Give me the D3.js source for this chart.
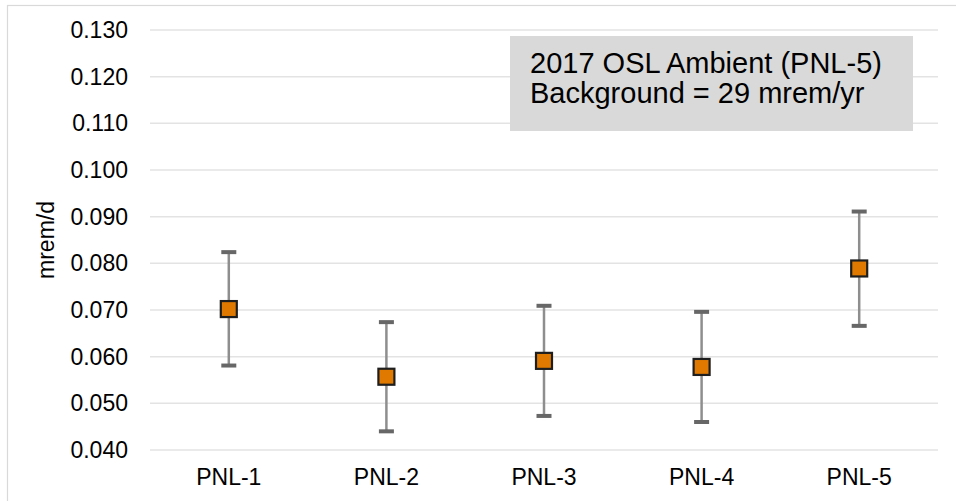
<!DOCTYPE html>
<html>
<head>
<meta charset="utf-8">
<script src="https://cdn.jsdelivr.net/npm/d3@7"></script>
<style>
  body { margin: 0; background: #fff; }
  text { font-family: "Liberation Sans", Arial, sans-serif; fill: #000; }
</style>
</head>
<body>
<div id="chart"></div>
<script>
// data
let categories = ["PNL-1", "PNL-2", "PNL-3", "PNL-4", "PNL-5"]
let values = [0.0702, 0.0557, 0.0591, 0.0578, 0.0789]
let upper = [0.0824, 0.0674, 0.0709, 0.0696, 0.0911]
let lower = [0.0581, 0.0440, 0.0473, 0.0460, 0.0666]
let yTicks = [0.040, 0.050, 0.060, 0.070, 0.080, 0.090, 0.100, 0.110, 0.120, 0.130]
let boxLines = ["2017 OSL Ambient (PNL-5)", "Background = 29 mrem/yr"]

let points = categories.map((c, i) => ({ cat: c, v: values[i], hi: upper[i], lo: lower[i] }))

// graph sizes
let width = 956
let height = 501
let plotLeft = 150, plotRight = 938, plotTop = 30, plotBottom = 450

let svg = d3.select("#chart")
  .append("svg")
  .attr("width", width)
  .attr("height", height)

// outer chart border
svg.append("rect")
  .attr("x", 7.5)
  .attr("y", 5.5)
  .attr("width", width + 10)
  .attr("height", height + 10)
  .attr("fill", "none")
  .attr("stroke", "#d9d9d9")
  .attr("stroke-width", 1.2)

let x = d3.scaleBand()
  .domain(categories)
  .range([plotLeft, plotRight])

let y = d3.scaleLinear()
  .domain([0.040, 0.130])
  .range([plotBottom, plotTop])

// gridlines
svg.append("g")
  .selectAll("line")
  .data(yTicks)
  .enter().append("line")
    .attr("x1", plotLeft)
    .attr("x2", plotRight)
    .attr("y1", d => y(d))
    .attr("y2", d => y(d))
    .attr("stroke", "#e3e3e3")
    .attr("stroke-width", 1.5)

// y axis labels
let yAxis = svg.append("g")
  .attr("transform", "translate(" + (plotLeft - 8) + ",0)")
  .call(d3.axisLeft(y).tickValues(yTicks).tickFormat(d3.format(".3f")).tickSize(0).tickPadding(14))
yAxis.select(".domain").remove()
yAxis.selectAll("text")
  .style("font-size", "23px")
  .style("font-family", "Liberation Sans, Arial, sans-serif")
  .attr("fill", "#000")

// x axis labels
let xAxis = svg.append("g")
  .attr("transform", "translate(0," + plotBottom + ")")
  .call(d3.axisBottom(x).tickSize(0).tickPadding(19))
xAxis.select(".domain").remove()
xAxis.selectAll("text")
  .style("font-size", "23px")
  .style("font-family", "Liberation Sans, Arial, sans-serif")
  .attr("fill", "#000")

// axis title
svg.append("text")
  .attr("transform", "translate(54," + ((plotTop + plotBottom) / 2) + ") rotate(-90)")
  .attr("text-anchor", "middle")
  .style("font-size", "23px")
  .text("mrem/d")

// text box
svg.append("rect")
  .attr("x", 510)
  .attr("y", 36)
  .attr("width", 403)
  .attr("height", 95)
  .attr("fill", "#d9d9d9")

svg.append("g")
  .selectAll("text")
  .data(boxLines)
  .enter().append("text")
    .attr("x", 530)
    .attr("y", (d, i) => 73 + i * 30)
    .style("font-size", "29px")
    .text(d => d)

// error bars
let bars = svg.append("g")
  .selectAll("g")
  .data(points)
  .enter().append("g")
    .attr("transform", d => "translate(" + (x(d.cat) + x.bandwidth() / 2) + ",0)")

bars.append("line")
  .attr("y1", d => y(d.hi))
  .attr("y2", d => y(d.lo))
  .attr("stroke", "#8e8e8e")
  .attr("stroke-width", 2.5)

bars.selectAll(".cap")
  .data(d => [d.hi, d.lo])
  .enter().append("line")
    .attr("class", "cap")
    .attr("x1", -7.5)
    .attr("x2", 7.5)
    .attr("y1", d => y(d))
    .attr("y2", d => y(d))
    .attr("stroke", "#676767")
    .attr("stroke-width", 4)

// markers
bars.append("rect")
  .attr("x", -8)
  .attr("y", d => y(d.v) - 8)
  .attr("width", 16)
  .attr("height", 16)
  .attr("fill", "#df7900")
  .attr("stroke", "#1e1e1e")
  .attr("stroke-width", 2.2)
</script>
</body>
</html>
